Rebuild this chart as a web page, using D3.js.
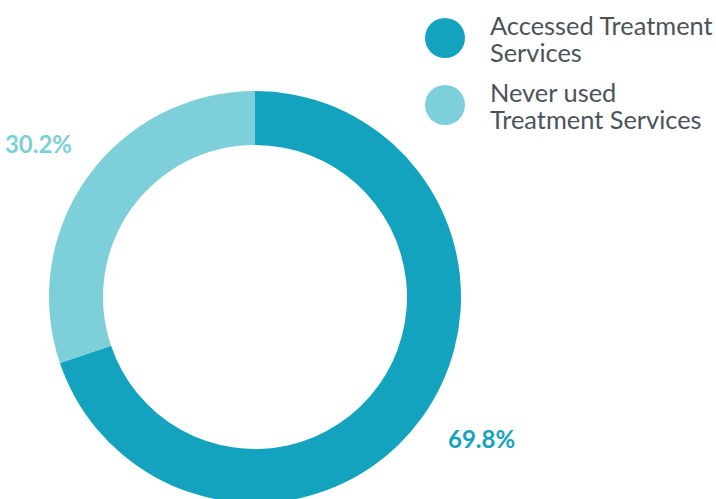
<!DOCTYPE html>
<html><head><meta charset="utf-8">
<script src="https://cdn.jsdelivr.net/npm/d3@7"></script>
<style>body{margin:0;background:#fff;overflow:hidden}svg{display:block}</style>
</head><body>
<svg id="chart" width="716" height="499"></svg>
<script>
const categories = ["Accessed Treatment Services", "Never used Treatment Services"];
const legendLines = [["Accessed Treatment", "Services"], ["Never used", "Treatment Services"]];
const values = [69.8, 30.2];
const colors = ["#13a3be", "#7dcfda"];

const svg = d3.select("#chart");
const cx = 255, cy = 297, outerR = 206, innerR = 152;
const data = categories.map((c, i) => ({name: c, value: values[i], color: colors[i], lines: legendLines[i]}));
const pie = d3.pie().sort(null).value(d => d.value);
const arcs = pie(data);
const arc = d3.arc().innerRadius(innerR).outerRadius(outerR);
const g = svg.append("g").attr("transform", `translate(${cx},${cy})`);
g.selectAll("path").data(arcs).join("path").attr("d", arc).attr("fill", d => d.data.color);

const fontFam = "Lato, 'Open Sans', sans-serif";
const labelArc = d3.arc().innerRadius(264).outerRadius(264);
g.selectAll("text.lbl").data(arcs).join("text").attr("class", "lbl")
  .attr("transform", (d, i) => {
    const [x, y] = labelArc.centroid(d);
    const nudge = i === 0 ? [12, -12] : [-2, 0];
    return `translate(${x + nudge[0]},${y + nudge[1]})`;
  })
  .attr("text-anchor", "middle").attr("dominant-baseline", "central")
  .attr("fill", d => d.data.color).attr("font-family", fontFam)
  .attr("font-weight", 700).attr("font-size", 24)
  .text(d => d.data.value.toFixed(1) + "%");

const legend = svg.append("g").attr("transform", "translate(445,38)");
const items = legend.selectAll("g").data(data).join("g")
  .attr("transform", (d, i) => `translate(0,${i * 67})`);
items.append("circle").attr("r", 20).attr("fill", d => d.color);
items.append("text").attr("x", 45).attr("y", -3)
  .attr("font-family", fontFam).attr("font-size", 25.4).attr("fill", "#4b5359")
  .selectAll("tspan").data(d => d.lines).join("tspan")
  .attr("x", 45).attr("dy", (d, i) => i === 0 ? 0 : 27).text(d => d);
</script>
</body></html>
